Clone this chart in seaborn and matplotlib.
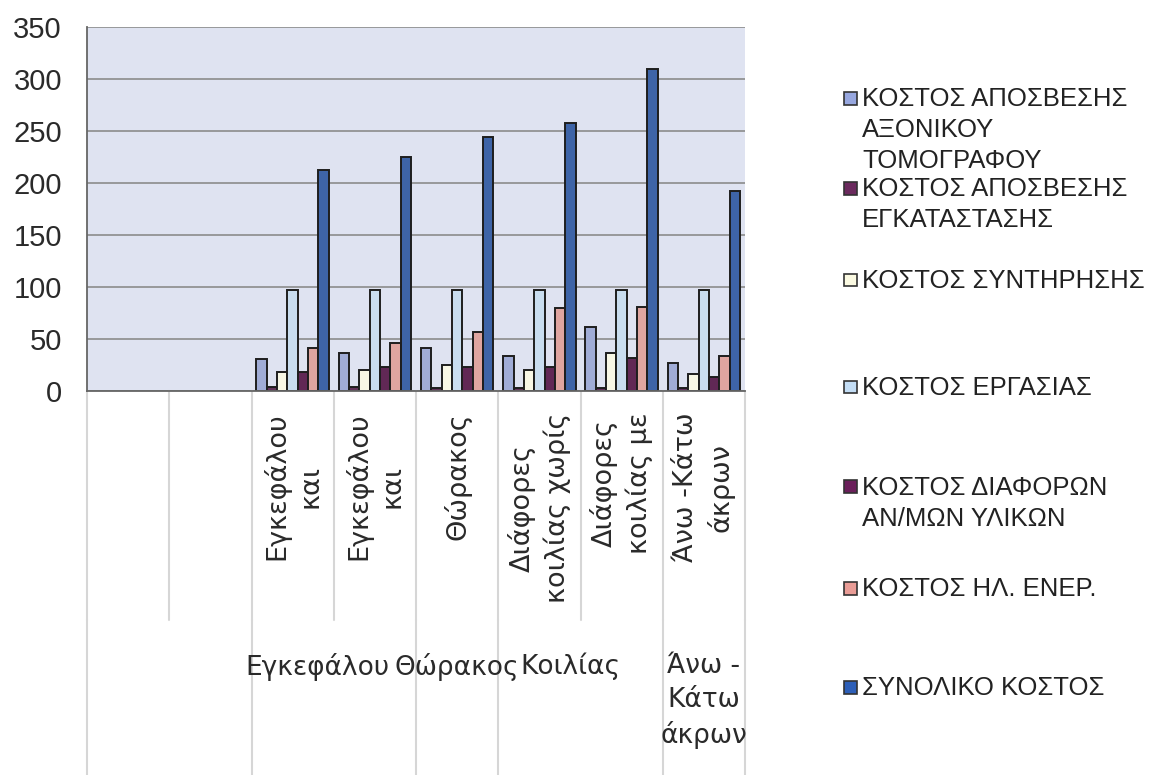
import matplotlib
matplotlib.use("Agg")
import matplotlib.pyplot as plt
import matplotlib.transforms as mtransforms
from matplotlib.patches import Rectangle
import pandas as pd
import seaborn as sns

# category slots (two empty ones at the start, as in the original sheet)
slots = ["κενό 1", "κενό 2", "Εγκεφάλου και (α)", "Εγκεφάλου και (β)", "Θώρακος",
         "Διάφορες κοιλίας χωρίς", "Διάφορες κοιλίας με", "Άνω -Κάτω άκρων"]
tick_labels = ["", "", "Εγκεφάλου\nκαι", "Εγκεφάλου\nκαι", "Θώρακος",
               "Διάφορες\nκοιλίας χωρίς", "Διάφορες\nκοιλίας με", "Άνω -Κάτω\nάκρων"]
group_labels = ["Εγκεφάλου", "Θώρακος", "Κοιλίας", "Άνω -\nΚάτω\nάκρων"]

series = ["ΚΟΣΤΟΣ ΑΠΟΣΒΕΣΗΣ ΑΞΟΝΙΚΟΥ ΤΟΜΟΓΡΑΦΟΥ", "ΚΟΣΤΟΣ ΑΠΟΣΒΕΣΗΣ ΕΓΚΑΤΑΣΤΑΣΗΣ",
          "ΚΟΣΤΟΣ ΣΥΝΤΗΡΗΣΗΣ", "ΚΟΣΤΟΣ ΕΡΓΑΣΙΑΣ", "ΚΟΣΤΟΣ ΔΙΑΦΟΡΩΝ ΑΝ/ΜΩΝ ΥΛΙΚΩΝ",
          "ΚΟΣΤΟΣ ΗΛ. ΕΝΕΡ.", "ΣΥΝΟΛΙΚΟ ΚΟΣΤΟΣ"]
legend_labels = ["ΚΟΣΤΟΣ ΑΠΟΣΒΕΣΗΣ\nΑΞΟΝΙΚΟΥ\nΤΟΜΟΓΡΑΦΟΥ", "ΚΟΣΤΟΣ ΑΠΟΣΒΕΣΗΣ\nΕΓΚΑΤΑΣΤΑΣΗΣ",
                 "ΚΟΣΤΟΣ ΣΥΝΤΗΡΗΣΗΣ", "ΚΟΣΤΟΣ ΕΡΓΑΣΙΑΣ", "ΚΟΣΤΟΣ ΔΙΑΦΟΡΩΝ\nΑΝ/ΜΩΝ ΥΛΙΚΩΝ",
                 "ΚΟΣΤΟΣ ΗΛ. ΕΝΕΡ.", "ΣΥΝΟΛΙΚΟ ΚΟΣΤΟΣ"]

axoniki = [30, 36, 41, 33, 61, 26]
egkatastasi = [3, 3, 2, 2, 2, 2]
syntirisi = [18, 20, 25, 20, 36, 16]
ergasia = [97, 97, 97, 97, 97, 97]
analosima = [18, 23, 23, 23, 31, 13]
energeia = [41, 46, 56, 79, 80, 33]
synolo = [212, 225, 244, 258, 310, 192]

colors = ["#97a7df", "#6b2a5e", "#fbfae2", "#c3ddf5", "#6a1f5a", "#e99c96", "#2d5fb8"]

rows = []
for name, values in zip(series, [axoniki, egkatastasi, syntirisi, ergasia, analosima, energeia, synolo]):
    for slot, v in zip(slots[2:], values):
        rows.append({"slot": slot, "series": name, "value": v})
df = pd.DataFrame(rows)

sns.set_theme(style="white")
plt.rcParams["font.family"] = ["Liberation Sans", "DejaVu Sans"]

W, H = 1162, 775
fig = plt.figure(figsize=(W / 100, H / 100), dpi=100)
ax = fig.add_axes([87 / W, 1 - 390.5 / H, (745 - 87) / W, (390.5 - 27) / H])
ax.set_facecolor("#dfe3f1")

sns.barplot(data=df, x="slot", y="value", hue="series", order=slots, hue_order=series,
            palette=colors, width=0.88, gap=0, edgecolor="#1e1e1e", linewidth=1.4,
            errorbar=None, legend=False, ax=ax)

ax.set_xlim(-0.5, 7.5)
ax.set_ylim(0, 350)
ax.set_yticks(range(0, 351, 50))
ax.yaxis.grid(True, color="#8c8c8c", linewidth=1.2)
ax.set_axisbelow(True)
ax.set_xlabel("")
ax.set_ylabel("")
for side in ["top", "right"]:
    ax.spines[side].set_visible(False)
for side in ["left", "bottom"]:
    ax.spines[side].set_color("#666666")
    ax.spines[side].set_linewidth(1.3)

ax.tick_params(axis="y", length=0, pad=18, labelsize=21, labelcolor="#2a2a2a")
ax.set_xticks(range(len(slots)))
ax.set_xticklabels(tick_labels, rotation=90, va="top", ha="center", multialignment="center",
                   linespacing=1.35, fontsize=19.5, color="#2a2a2a", family="DejaVu Sans")
ax.tick_params(axis="x", length=0, pad=16)

# separators of the two-level category axis
trans = mtransforms.blended_transform_factory(ax.transData, fig.transFigure)
for b in [i - 0.5 for i in range(len(slots) + 1)]:
    ax.plot([b, b], [1 - 391 / H, 1 - 620 / H], transform=trans, color="#d6d6d6",
            linewidth=1.5, clip_on=False)
for b in [-0.5, 1.5, 3.5, 4.5, 6.5, 7.5]:
    ax.plot([b, b], [1 - 620 / H, 0], transform=trans, color="#d6d6d6",
            linewidth=1.5, clip_on=False)

# group labels
for x, label in zip([2.3, 4.0, 5.38, 7.0], group_labels):
    ax.text(x, 1 - 653 / H, label, transform=trans, ha="center", va="top",
            multialignment="center", linespacing=1.38, fontsize=19,
            color="#2a2a2a", family="DejaVu Sans")

# legend
legend_y = [98, 188, 280, 387, 487, 588, 687]
pitch = 31
for label, color, y0 in zip(legend_labels, colors, legend_y):
    fig.add_artist(Rectangle((844 / W, 1 - (y0 + 6.5) / H), 13 / W, 13 / H,
                             transform=fig.transFigure, facecolor=color,
                             edgecolor="#333333", linewidth=1.2))
    for i, line in enumerate(label.split("\n")):
        fig.text(862 / W, 1 - (y0 + 1 + i * pitch) / H, line, ha="left", va="center",
                 fontsize=18.5, color="#222222")

fig.savefig("out.png", dpi=100)
